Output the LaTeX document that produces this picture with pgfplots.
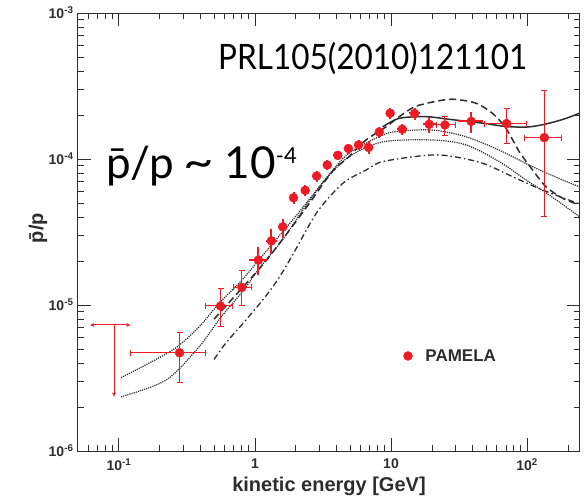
\documentclass[border=0pt]{standalone}
\usepackage{pgfplots}
\pgfplotsset{compat=1.18}
\usepackage{pgfplotstable}
\usepackage{fontspec}
\setmainfont{Liberation Sans}
\newfontfamily\gill{Lato}
\usetikzlibrary{arrows.meta}
\definecolor{pamred}{RGB}{237,28,36}
\definecolor{rootgray}{RGB}{45,45,45}
\newcommand{\tl}[1]{10\textsuperscript{#1}}

% PAMELA points, wide error bars with caps
\pgfplotstableread{
x y exm exp eym eyp
0.279 4.71e-6 0.157 0.151 1.76e-6 1.79e-6
0.558 9.85e-6 0.128 0.126 2.67e-6 3.05e-6
0.802 1.32e-5 0.110 0.133 3.2e-6 4.0e-6
24.9 1.71e-4 3.3 5.1 2.5e-5 2.6e-5
70.8 1.75e-4 22.3 28.5 4.7e-5 4.7e-5
134 1.40e-4 38.5 44 9.97e-5 1.54e-4
}\pamwide

% PAMELA points, small error bars
\pgfplotstableread{
x y exm exp eym eyp
1.06 2.03e-5 0.15 0.17 4.3e-6 4.7e-6
1.32 2.75e-5 0.12 0.12 5.1e-6 5.5e-6
1.60 3.43e-5 0.13 0.13 5.3e-6 4.7e-6
1.92 5.43e-5 0.12 0.12 5.0e-6 5.0e-6
2.34 6.10e-5 0.15 0.15 5.5e-6 5.5e-6
2.84 7.65e-5 0.20 0.20 6.5e-6 6.5e-6
3.40 9.10e-5 0.25 0.25 7.0e-6 7.0e-6
4.06 1.06e-4 0.30 0.30 8.0e-6 8.0e-6
4.86 1.18e-4 0.35 0.35 9.0e-6 9.0e-6
5.77 1.25e-4 0.40 0.40 1.0e-5 1.0e-5
6.84 1.20e-4 0.50 0.50 1.2e-5 1.2e-5
8.20 1.53e-4 0.60 0.60 1.3e-5 1.3e-5
9.85 2.06e-4 0.70 0.70 1.7e-5 1.7e-5
12.1 1.60e-4 1.0 1.0 1.5e-5 1.5e-5
14.9 2.05e-4 1.4 1.4 2.0e-5 2.0e-5
19.1 1.73e-4 2.0 2.4 2.2e-5 2.2e-5
38.9 1.81e-4 8.0 8.3 3.1e-5 3.0e-5
}\pamsmall

\begin{document}
\begin{tikzpicture}
\begin{axis}[
    at={(78pt,49pt)}, anchor=south west,
    scale only axis,
    width=502pt, height=438pt,
    xmode=log, ymode=log,
    xmin=0.05, xmax=245,
    ymin=1e-6, ymax=1e-3,
    axis line style={line width=1pt, rootgray},
    every tick/.style={line width=0.9pt, rootgray},
    major tick length=13pt, minor tick length=6.5pt,
    tick align=inside,
    xtick={0.1,1,10,100},
    xticklabels={\tl{-1},1,10,\tl{2}},
    minor xtick={0.06,0.07,0.08,0.09,0.2,0.3,0.4,0.5,0.6,0.7,0.8,0.9,2,3,4,5,6,7,8,9,20,30,40,50,60,70,80,90,200},
    ytick={1e-6,1e-5,1e-4,1e-3},
    yticklabels={\tl{-6},\tl{-5},\tl{-4},\tl{-3}},
    minor ytick={2e-6,3e-6,4e-6,5e-6,6e-6,7e-6,8e-6,9e-6,2e-5,3e-5,4e-5,5e-5,6e-5,7e-5,8e-5,9e-5,2e-4,3e-4,4e-4,5e-4,6e-4,7e-4,8e-4,9e-4},
    ticklabel style={font=\bfseries\fontsize{14}{14}\selectfont, text=rootgray},
    xticklabel style={yshift=-4pt},
    yticklabel style={xshift=-1pt},
    xlabel={kinetic energy [GeV]},
    ylabel={\=p/p},
    label style={font=\bfseries\fontsize{20}{20}\selectfont, text=rootgray},
    xlabel style={at={(rel axis cs:0.5,-0.08)}, anchor=center},
    ylabel style={at={(rel axis cs:-0.08,0.509)}, anchor=center},
    legend style={at={(rel axis cs:0.642,0.217)}, anchor=west, draw=none, fill=none,
        font=\bfseries\fontsize{17}{17}\selectfont, text=rootgray},
    legend cell align=left,
]
% model curves
\addplot[rootgray, line width=1.2pt, densely dotted, smooth, forget plot] coordinates {
(0.1035,3.18e-6) (0.248,4.92e-6) (0.389,7.1e-6) (0.546,1.03e-5) (0.811,1.5e-5)
(1.2,2.32e-5) (1.89,3.82e-5) (2.51,5.3e-5) (3.5,7.8e-5) (4.93,1.1e-4)
(8.68,1.46e-4) (11.5,1.55e-4) (20.2,1.58e-4) (35.6,1.42e-4) (62.5,1.15e-4)
(110,8.85e-5) (183,7.18e-5) (243,6.45e-5)};
\addplot[rootgray, line width=1.2pt, densely dotted, smooth, forget plot] coordinates {
(0.1035,2.35e-6) (0.222,3.06e-6) (0.389,5.18e-6) (0.556,8.15e-6) (0.807,1.23e-5)
(1.08,1.79e-5) (1.59,2.79e-5) (2.37,4.8e-5) (3.33,7.3e-5) (4.93,1.04e-4)
(8.68,1.31e-4) (20.2,1.35e-4) (35.6,1.25e-4) (62.5,9.6e-5) (98.4,7.18e-5)
(146,5.66e-5) (243,4.03e-5)};
\addplot[rootgray, line width=1.5pt, dash pattern=on 7pt off 4pt, smooth, forget plot] coordinates {
(0.5,8.0e-6) (0.8,1.3e-5) (1.2,2.0e-5) (1.9,3.5e-5) (2.6,5.2e-5) (3.7,8.2e-5)
(4.93,1.04e-4) (6.55,1.35e-4) (9.19,1.66e-4) (11.5,1.95e-4) (15.3,2.3e-4)
(23.9,2.53e-4) (30,2.56e-4) (42.2,2.41e-4) (55.9,2.05e-4) (70.1,1.62e-4)
(87.8,1.12e-4) (110,8.4e-5) (138,6.45e-5) (183,5.38e-5) (243,4.84e-5)};
\addplot[rootgray, line width=1.5pt, smooth, forget plot] coordinates {
(8.68,1.66e-4) (11.5,1.9e-4) (18.1,1.95e-4) (26.8,1.87e-4) (47.2,1.76e-4)
(70.1,1.67e-4) (104,1.66e-4) (146,1.76e-4) (194,1.9e-4) (243,2.06e-4)};
\addplot[rootgray, line width=1.3pt, dash pattern=on 6pt off 3pt on 1.5pt off 3pt, smooth, forget plot] coordinates {
(0.5,4.24e-6) (0.612,5.5e-6) (0.859,7.9e-6) (1.2,1.15e-5) (1.51,1.55e-5)
(1.89,2.2e-5) (2.85,4.3e-5) (4.41,6.8e-5) (6.55,8.4e-5) (8.68,9.6e-5)
(18.1,1.06e-4) (26.8,1.05e-4) (47.2,9.35e-5) (83,7.38e-5) (130,6.14e-5) (243,4.92e-5)};

% upper limit
\addplot[pamred, line width=1pt, {Latex[length=4pt,width=4pt]}-{Latex[length=4pt,width=4pt]}, forget plot]
    coordinates {(0.061,7.3e-6) (0.122,7.3e-6)};
\addplot[pamred, line width=1pt, -{Latex[length=4pt,width=4pt]}, forget plot]
    coordinates {(0.092,7.3e-6) (0.092,2.35e-6)};

% data
\addplot[only marks, mark=*, mark size=4.5pt, color=pamred,
    error bars/.cd, x dir=both, x explicit, y dir=both, y explicit,
    error bar style={line width=1pt, pamred},
    error mark options={pamred, mark size=3pt, line width=1pt, rotate=90}]
    table[x=x, y=y, x error plus=exp, x error minus=exm, y error plus=eyp, y error minus=eym]{\pamwide};
\addlegendentry{\hspace{11pt}PAMELA}
\addplot[only marks, mark=*, mark size=4.5pt, color=pamred, forget plot,
    error bars/.cd, x dir=both, x explicit, y dir=both, y explicit,
    error bar style={line width=2pt, pamred},
    error mark=none]
    table[x=x, y=y, x error plus=exp, x error minus=exm, y error plus=eyp, y error minus=eym]{\pamsmall};
\end{axis}
\node[anchor=base west, inner sep=0pt, font=\gill\fontsize{35}{35}\selectfont] at (218pt,430pt)
    {\scalebox{0.9}[1]{PRL105(2010)121101}};
\node[anchor=base west, inner sep=0pt, font=\gill\fontsize{44}{44}\selectfont] at (106pt,321.7pt)
    {\=p/p\hspace{9pt}\raisebox{1pt}{\scalebox{1.2}[1]{\textasciitilde}}\hspace{11pt}10\raisebox{15pt}{\fontsize{22}{22}\selectfont -4}};
\pgfresetboundingbox
\path[use as bounding box] (0,0) rectangle (584pt,500pt);
\end{tikzpicture}
\end{document}
